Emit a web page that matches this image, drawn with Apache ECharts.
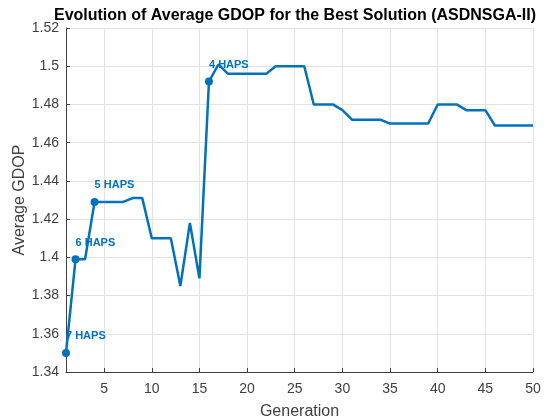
<!DOCTYPE html>
<html>
<head>
<meta charset="utf-8">
<script src="https://cdn.jsdelivr.net/npm/echarts@6/dist/echarts.min.js"></script>
<style>
  html, body { margin: 0; padding: 0; background: #fff; }
  #chart { width: 551px; height: 420px; }
</style>
</head>
<body>
<div id="chart"></div>
<script>
  // generation 1..50
  const generations = [];
  for (let g = 1; g <= 50; g++) generations.push(g);

  // average GDOP
  const gdopValues = [
    1.350, 1.399, 1.399, 1.429, 1.429, 1.429, 1.429, 1.431, 1.431, 1.410,
    1.410, 1.410, 1.385, 1.418, 1.389, 1.492, 1.501, 1.496, 1.496, 1.496,
    1.496, 1.496, 1.500, 1.500, 1.500, 1.500, 1.480, 1.480, 1.480, 1.477,
    1.472, 1.472, 1.472, 1.472, 1.470, 1.470, 1.470, 1.470, 1.470, 1.480,
    1.480, 1.480, 1.477, 1.477, 1.477, 1.469, 1.469, 1.469, 1.469, 1.469
  ];

  // marked generations and their labels
  const markedGens = [1, 2, 4, 16];
  const markedLabels = ['7 HAPS', '6 HAPS', '5 HAPS', '4 HAPS'];

  const yTicks = { min: 1.34, max: 1.52, interval: 0.02 };

  const lineColor = '#0072BD';
  const textColor = '#404040';

  const lineData = generations.map((g, i) => [g, gdopValues[i]]);
  const markData = markedGens.map((g, i) => ({
    value: [g, gdopValues[g - 1]],
    name: markedLabels[i]
  }));

  const chart = echarts.init(document.getElementById('chart'));
  chart.setOption({
    animation: false,
    title: {
      text: 'Evolution of Average GDOP for the Best Solution (ASDNSGA-II)',
      left: 290,
      textAlign: 'center',
      top: 3,
      textStyle: { fontFamily: 'Liberation Sans', fontSize: 16, fontWeight: 'bold', color: '#000' }
    },
    grid: { left: 66, right: 18, top: 28, bottom: 48, containLabel: false, outerBoundsMode: 'none' },
    xAxis: {
      type: 'value',
      min: 1,
      max: 50,
      splitNumber: 10,
      name: 'Generation',
      nameLocation: 'middle',
      nameGap: 32,
      nameTextStyle: { fontFamily: 'Liberation Sans', fontSize: 16, color: textColor },
      axisLine: { show: true, lineStyle: { color: '#404040', width: 1 } },
      axisTick: { show: true, inside: true, length: 4, lineStyle: { color: '#404040' } },
      axisLabel: { showMinLabel: false, fontFamily: 'Liberation Sans', fontSize: 14, color: textColor, margin: 10 },
      splitLine: { show: true, lineStyle: { color: '#e3e3e3', width: 1 } }
    },
    yAxis: {
      type: 'value',
      min: yTicks.min,
      max: yTicks.max,
      interval: yTicks.interval,
      name: 'Average GDOP',
      nameLocation: 'middle',
      nameGap: 38,
      nameMoveOverlap: false,
      nameTextStyle: { fontFamily: 'Liberation Sans', fontSize: 16, color: textColor },
      axisLine: { show: true, lineStyle: { color: '#404040', width: 1 } },
      axisTick: { show: true, inside: true, length: 4, lineStyle: { color: '#404040' } },
      axisLabel: { fontFamily: 'Liberation Sans', fontSize: 14, color: textColor, margin: 7 },
      splitLine: { show: true, lineStyle: { color: '#e3e3e3', width: 1 } }
    },
    series: [
      {
        type: 'line',
        data: lineData,
        showSymbol: false,
        symbol: 'none',
        lineStyle: { color: lineColor, width: 2.5 },
        z: 2
      },
      {
        type: 'scatter',
        data: markData,
        symbol: 'circle',
        symbolSize: 8,
        itemStyle: { color: lineColor, opacity: 1 },
        label: {
          show: true,
          position: 'top',
          align: 'left',
          distance: 6,
          offset: [0, -1],
          formatter: p => p.name,
          fontFamily: 'Liberation Sans',
          fontSize: 11,
          fontWeight: 'bold',
          color: lineColor
        },
        z: 3
      }
    ]
  });
</script>
</body>
</html>
